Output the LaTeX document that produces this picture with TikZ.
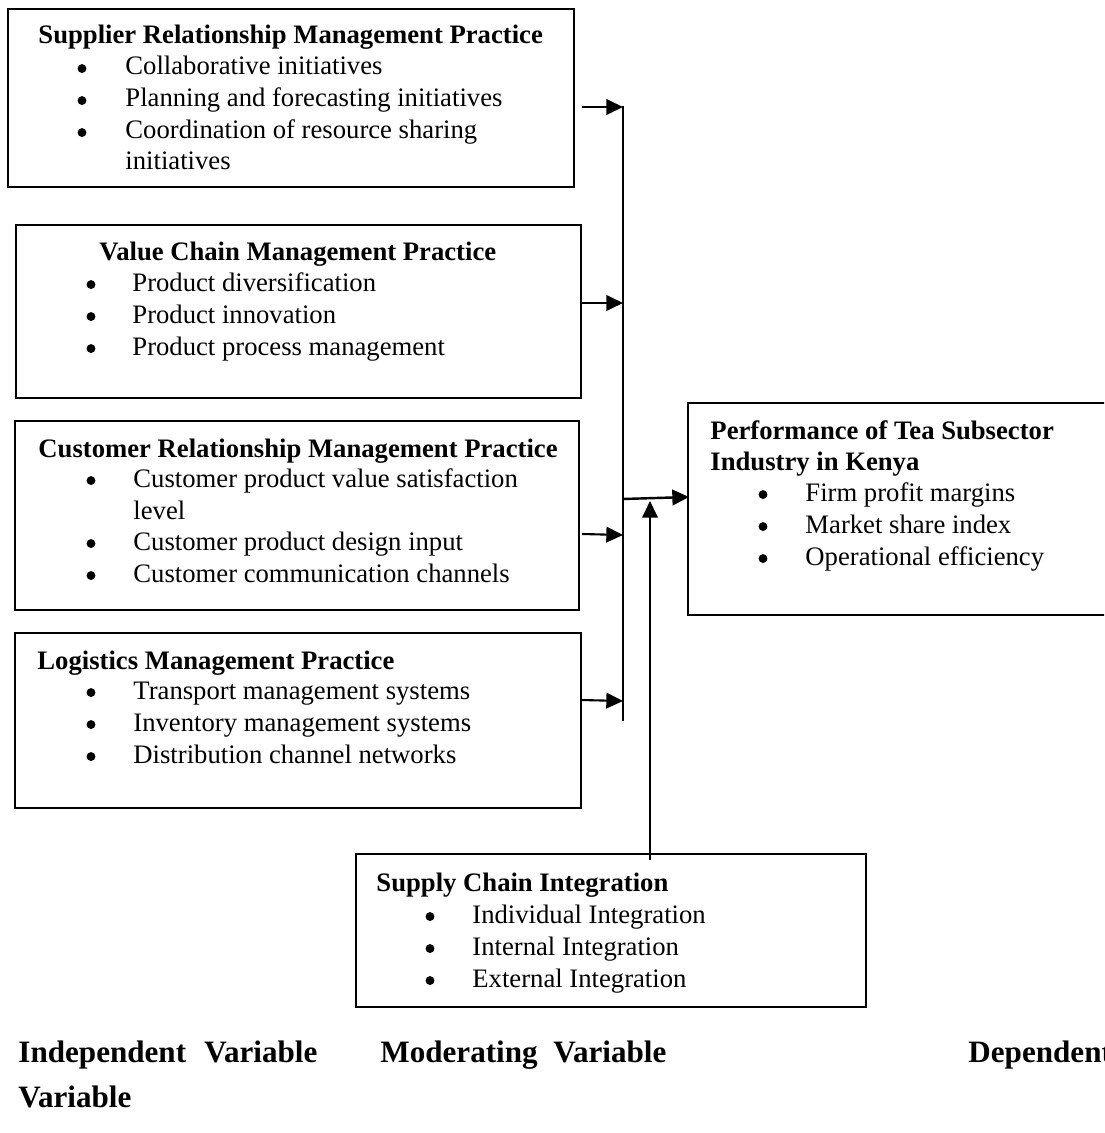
\documentclass[tikz,border=0pt]{standalone}
\usepackage{fontspec}
\setmainfont{Liberation Serif}
\usetikzlibrary{arrows.meta,fit}
\begin{document}
\begin{tikzpicture}[x=0.45pt,y=-0.45pt,
  box/.style={draw, line width=1.1pt, inner sep=0pt},
  ttl/.style={anchor=base west, inner sep=0pt, font=\fontsize{12}{14}\selectfont\bfseries},
  itm/.style={anchor=base west, inner sep=0pt, font=\fontsize{12}{14}\selectfont},
  bul/.style={circle, fill, inner sep=0pt, minimum size=4pt, yshift=2.9pt},
  lab/.style={anchor=base west, inner sep=0pt, font=\fontsize{14}{16}\selectfont\bfseries},
  arr/.style={-{Triangle[length=7.5pt,width=7pt]}, line width=0.95pt},
  thinline/.style={line width=0.5pt}]
\useasboundingbox (0,0) rectangle (1104,1133);
\clip (0,0) rectangle (1104,1133);

% ---------- boxes ----------
\node[box, fit={(8,9) (574,187)}] (b1) {};
\node[box, fit={(16,225) (581,398)}] (b2) {};
\node[box, fit={(15,421) (579,610)}] (b3) {};
\node[box, fit={(15,633) (581,808)}] (b4) {};
\node[box, fit={(688,403) (1125,615)}] (b5) {};
\node[box, fit={(356,854) (866,1007)}] (b6) {};

% ---------- box 1 ----------
\node[ttl] (t1) at (38,44) {Supplier Relationship Management Practice};
\node[bul] (t1b1) at (82,75) {};
\node[itm] (t1i1) at (125,75) {Collaborative initiatives};
\node[bul] (t1b2) at (82,107) {};
\node[itm] (t1i2) at (125,107) {Planning and forecasting initiatives};
\node[bul] (t1b3) at (82,139) {};
\node[itm] (t1i3) at (125,139) {Coordination of resource sharing};
\node[itm] (t1i4) at (125,170) {initiatives};

% ---------- box 2 ----------
\node[ttl] (t2) at (99,260) {Value Chain Management Practice};
\node[bul] (t2b1) at (91,291) {};
\node[itm] (t2i1) at (132,291) {Product diversification};
\node[bul] (t2b2) at (91,323) {};
\node[itm] (t2i2) at (132,323) {Product innovation};
\node[bul] (t2b3) at (91,355) {};
\node[itm] (t2i3) at (132,355) {Product process management};

% ---------- box 3 ----------
\node[ttl] (t3) at (38,457) {Customer Relationship Management Practice};
\node[bul] (t3b1) at (91,487) {};
\node[itm] (t3i1) at (133,487) {Customer product value satisfaction};
\node[itm] (t3i1b) at (133,519) {level};
\node[bul] (t3b2) at (91,550) {};
\node[itm] (t3i2) at (133,550) {Customer product design input};
\node[bul] (t3b3) at (91,582) {};
\node[itm] (t3i3) at (133,582) {Customer communication channels};

% ---------- box 4 ----------
\node[ttl] (t4) at (37,669) {Logistics Management Practice};
\node[bul] (t4b1) at (91,699) {};
\node[itm] (t4i1) at (133,699) {Transport management systems};
\node[bul] (t4b2) at (91,731) {};
\node[itm] (t4i2) at (133,731) {Inventory management systems};
\node[bul] (t4b3) at (91,763) {};
\node[itm] (t4i3) at (133,763) {Distribution channel networks};

% ---------- box 5 ----------
\node[ttl] (t5) at (710,439) {Performance of Tea Subsector};
\node[ttl] (t5b) at (710,470) {Industry in Kenya};
\node[bul] (t5b1) at (763,501) {};
\node[itm] (t5i1) at (805,501) {Firm profit margins};
\node[bul] (t5b2) at (763,533) {};
\node[itm] (t5i2) at (805,533) {Market share index};
\node[bul] (t5b3) at (763,565) {};
\node[itm] (t5i3) at (805,565) {Operational efficiency};

% ---------- box 6 ----------
\node[ttl] (t6) at (376,891) {Supply Chain Integration};
\node[bul] (t6b1) at (430,923) {};
\node[itm] (t6i1) at (472,923) {Individual Integration};
\node[bul] (t6b2) at (430,955) {};
\node[itm] (t6i2) at (472,955) {Internal Integration};
\node[bul] (t6b3) at (430,987) {};
\node[itm] (t6i3) at (472,987) {External Integration};

% ---------- connectors ----------
\coordinate (vtop) at (623,106);
\coordinate (vbot) at (623,721);
\coordinate (s1) at (582,107);
\coordinate (j1) at (623,107);
\coordinate (s2) at (582,303);
\coordinate (j2) at (623,303);
\coordinate (s3) at (582,534);
\coordinate (j3) at (623,535);
\coordinate (s4) at (581,700);
\coordinate (j4) at (623,701);
\coordinate (jm) at (623,499);
\coordinate (t5in) at (689,497);
\coordinate (u0) at (650,860);
\coordinate (u1) at (650,501);

\draw[thinline] (vtop) -- (vbot);
\draw[arr] (s1) -- (j1);
\draw[arr] (s2) -- (j2);
\draw[arr] (s3) -- (j3);
\draw[arr] (s4) -- (j4);
\draw[arr, line width=1.1pt] (jm) -- (t5in);
\draw[arr] (u0) -- (u1);

% ---------- bottom labels ----------
\node[lab] (l1) at (18,1062) {Independent};
\node[lab] (l2) at (204,1062) {Variable};
\node[lab] (l3) at (380,1062) {Moderating};
\node[lab] (l4) at (553,1062) {Variable};
\node[lab] (l5) at (968,1062) {Dependent};
\node[lab] (l6) at (18,1107) {Variable};
\end{tikzpicture}
\end{document}
